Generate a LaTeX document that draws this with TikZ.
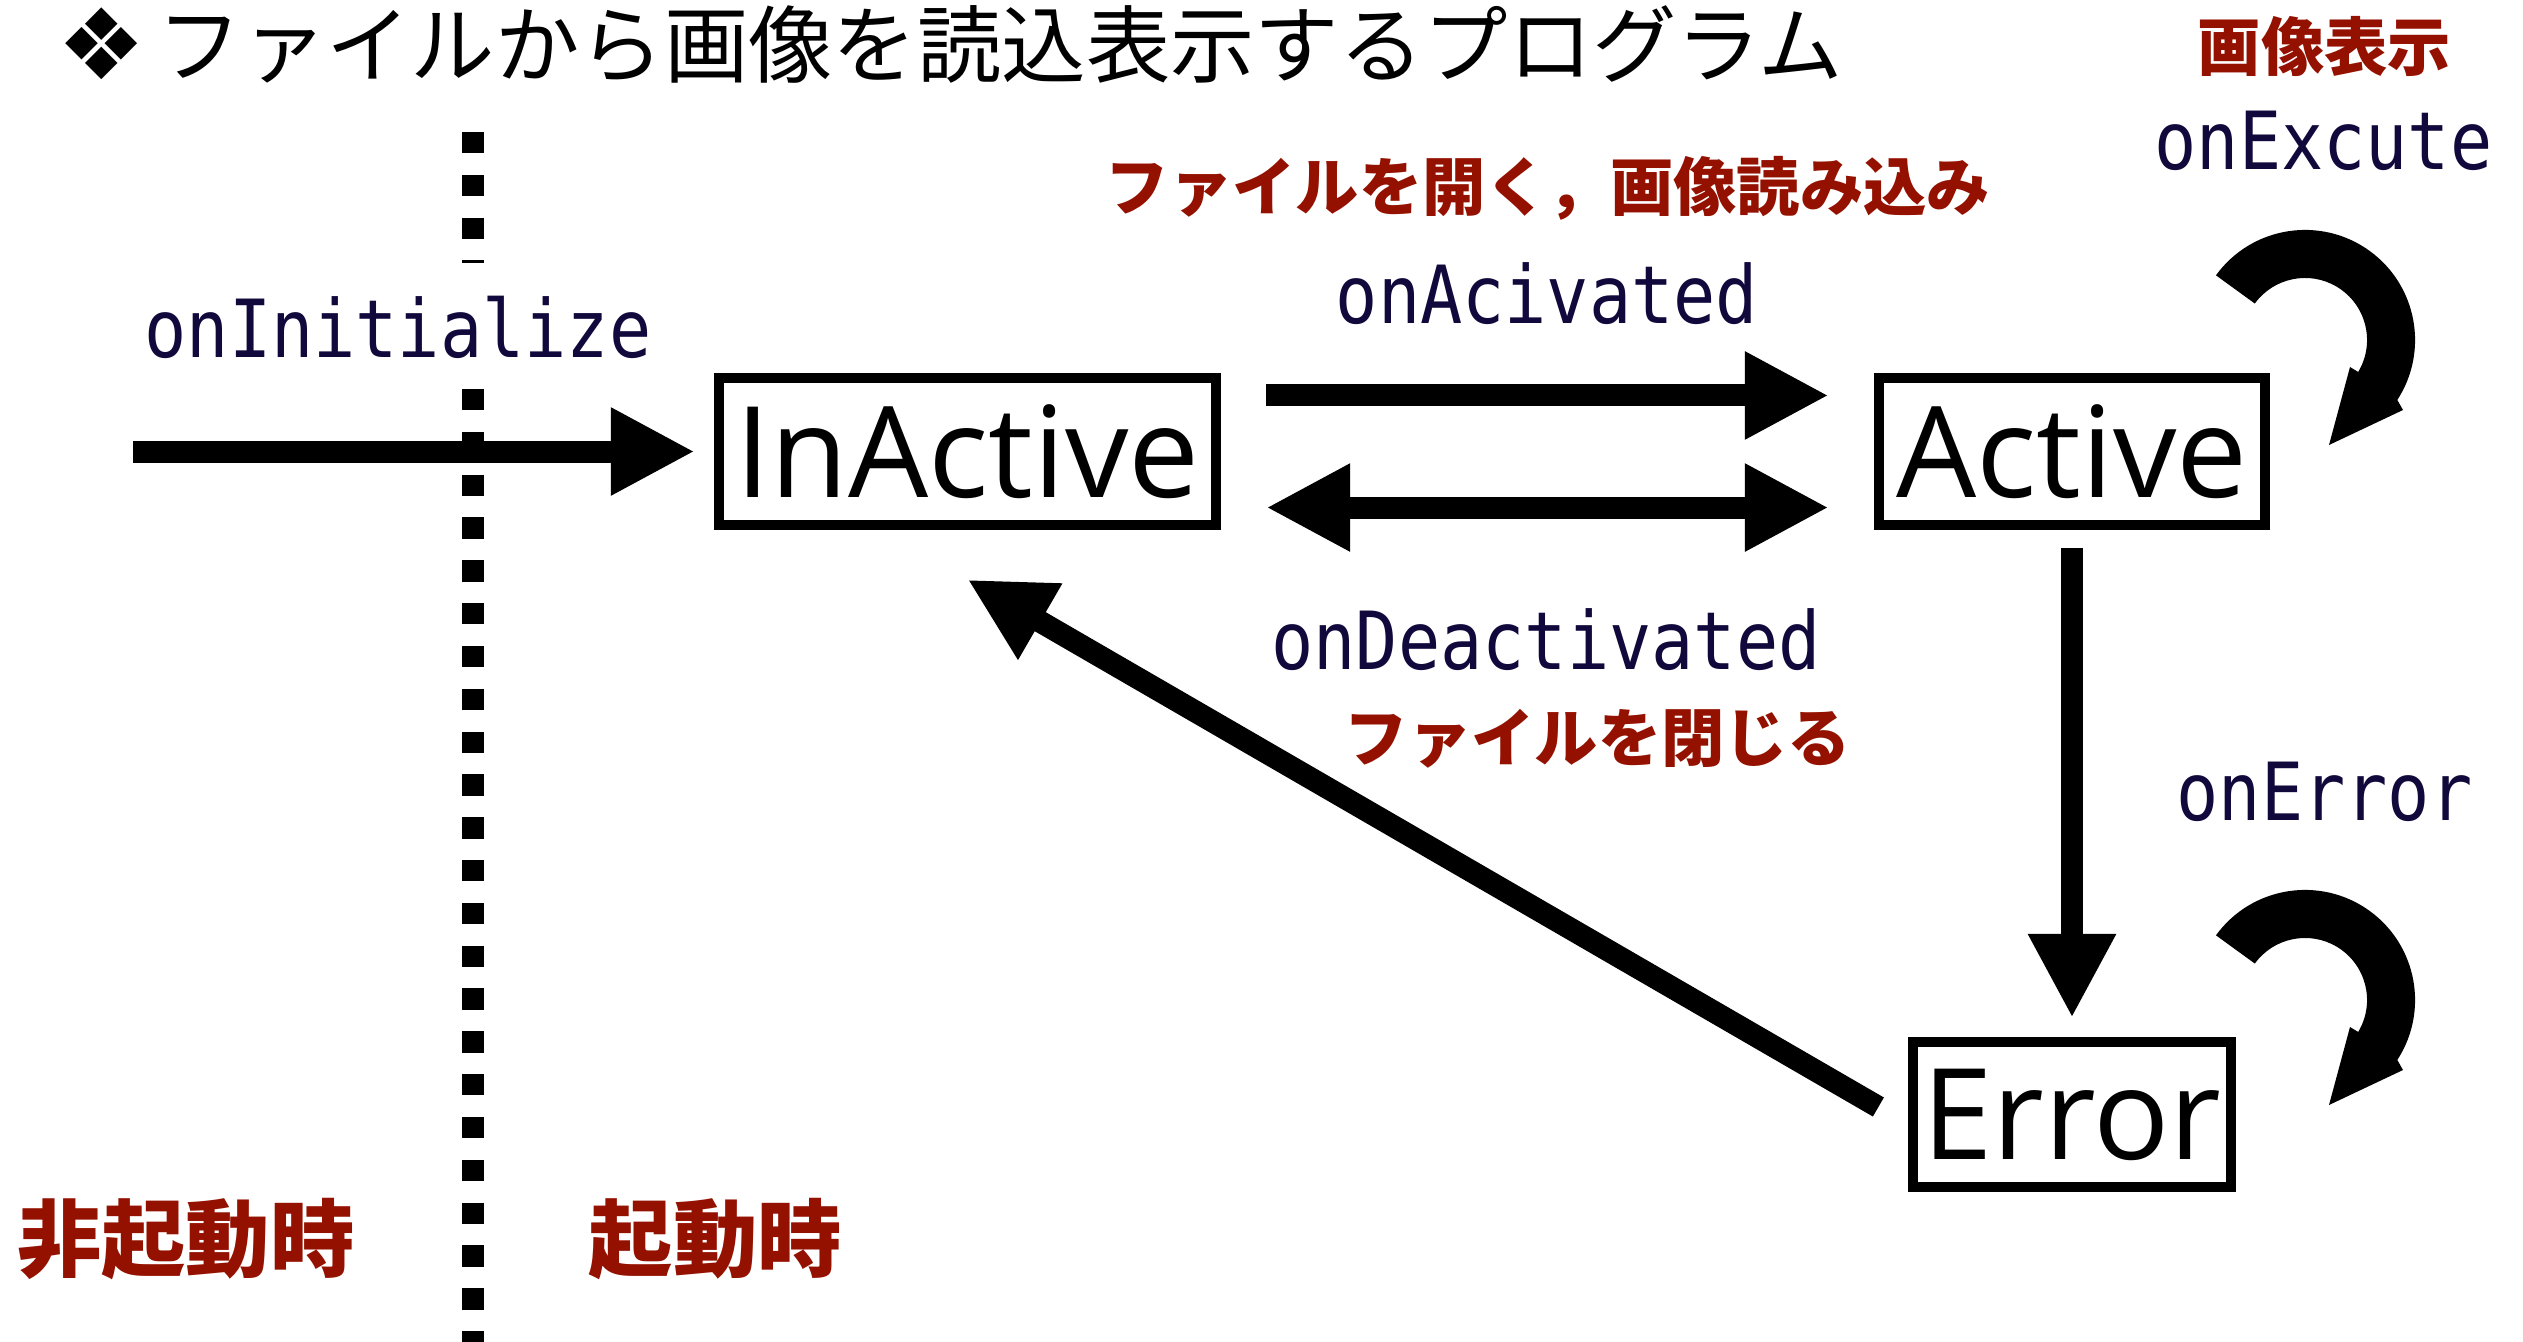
\documentclass[tikz,border=0pt]{standalone}
\usepackage{fontspec}
\usetikzlibrary{arrows.meta,calc}
\newfontfamily\jpfont{Noto Sans CJK JP}
\newfontfamily\boxfont{Open Sans}
\newfontfamily\symfont{DejaVu Sans}
\newfontfamily\codefont[FakeStretch=0.875]{DejaVu Sans Mono}
\definecolor{lblred}{RGB}{148,17,0}
\definecolor{codeblue}{RGB}{17,8,60}
\begin{document}
\begin{tikzpicture}[x=0.01cm,y=0.01cm,
  statebox/.style={draw, line width=0.1cm, inner sep=0pt, font=\boxfont\fontsize{36}{36}\selectfont},
  arr/.style={line width=0.22cm, -{Triangle[length=0.84cm,width=0.82cm]}},
  dblarr/.style={line width=0.22cm, {Triangle[length=0.84cm,width=0.82cm]}-{Triangle[length=0.84cm,width=0.82cm]}},
  code/.style={font=\codefont\fontsize{22.8}{24}\selectfont, text=codeblue, inner sep=0pt, anchor=base},
  redsmall/.style={font=\jpfont\bfseries\fontsize{18}{20}\selectfont, text=lblred, inner sep=0pt},
  redbig/.style={font=\jpfont\bfseries\fontsize{24}{26}\selectfont, text=lblred, inner sep=0pt},
  selfloop/.style={fill=black},
]
\useasboundingbox[fill=white] (0,0) rectangle (2523,-1342);

% title
\node[font=\symfont\fontsize{28}{28}\selectfont, inner sep=0pt] (tmark) at (101.5,-44) {❖};
\node[font=\jpfont\fontsize{24}{26}\selectfont, inner sep=0pt] (title) at (1000.5,-44) {ファイルから画像を読込表示するプログラム};

% dotted separator
\coordinate (dtop) at (473,-132);
\coordinate (dbot) at (473,-1342);
\draw[line width=0.22cm, dash pattern=on 0.213cm off 0.215cm] (dtop) -- (dbot);

% states
\node[statebox, minimum width=4.97cm, minimum height=1.46cm] (inactive) at (967.5,-451.5) {InActive};
\node[statebox, minimum width=3.86cm, minimum height=1.46cm] (active) at (2072,-451.5) {Active};
\node[statebox, minimum width=3.17cm, minimum height=1.45cm] (error) at (2072,-1114.5) {Error};

% labels
\node[code, fill=white, text height=0.94cm, text depth=0.25cm] (lblinit) at (398,-357) {onInitialize};
\node[code] (lblact) at (1547,-323) {onAcivated};
\node[code] (lbldeact) at (1546,-669) {onDeactivated};
\node[code] (lblexec) at (2323.5,-169) {onExcute};
\node[code] (lblerr) at (2324.5,-820) {onError};

\node[redsmall] (jpexec) at (2324.5,-46) {画像表示};
\node[redsmall] (jpopen) at (1548,-188) {ファイルを開く，画像読み込み};
\node[redsmall] (jpclose) at (1598,-739) {ファイルを閉じる};
\node[redbig] (jpoff) at (186,-1239) {非起動時};
\node[redbig] (jpon) at (715.5,-1239) {起動時};

% connectors
\coordinate (start) at (133,-451.5);
\draw[arr, shorten >=0.19cm] (start) -- (inactive.west);
\draw[arr, shorten <=0.45cm, shorten >=0.45cm] ([yshift=0.56cm]inactive.east) -- ([yshift=0.56cm]active.west);
\draw[dblarr, shorten <=0.45cm, shorten >=0.45cm] ([yshift=-0.56cm]inactive.east) -- ([yshift=-0.56cm]active.west);
\draw[arr, shorten <=0.18cm, shorten >=0.19cm] (active.south) -- (error.north);
\draw[arr] ([xshift=-0.3cm,yshift=0.075cm]error.west) -- ([yshift=-0.5cm]inactive.south);

% self loops
\foreach \dy in {0,-660}{
  \begin{scope}[yshift=\dy*0.01cm]
    \coordinate (lc) at (2305,-340);
    \fill[selfloop] ($(lc)+(144:1.1cm)$) arc[start angle=144, end angle=-33, radius=1.1cm]
      -- (2403,-410) -- (2329,-445) -- (2350,-367)
      -- ($(lc)+(-31:0.62cm)$) arc[start angle=-31, end angle=144, radius=0.62cm] -- cycle;
  \end{scope}
}
\end{tikzpicture}
\end{document}
